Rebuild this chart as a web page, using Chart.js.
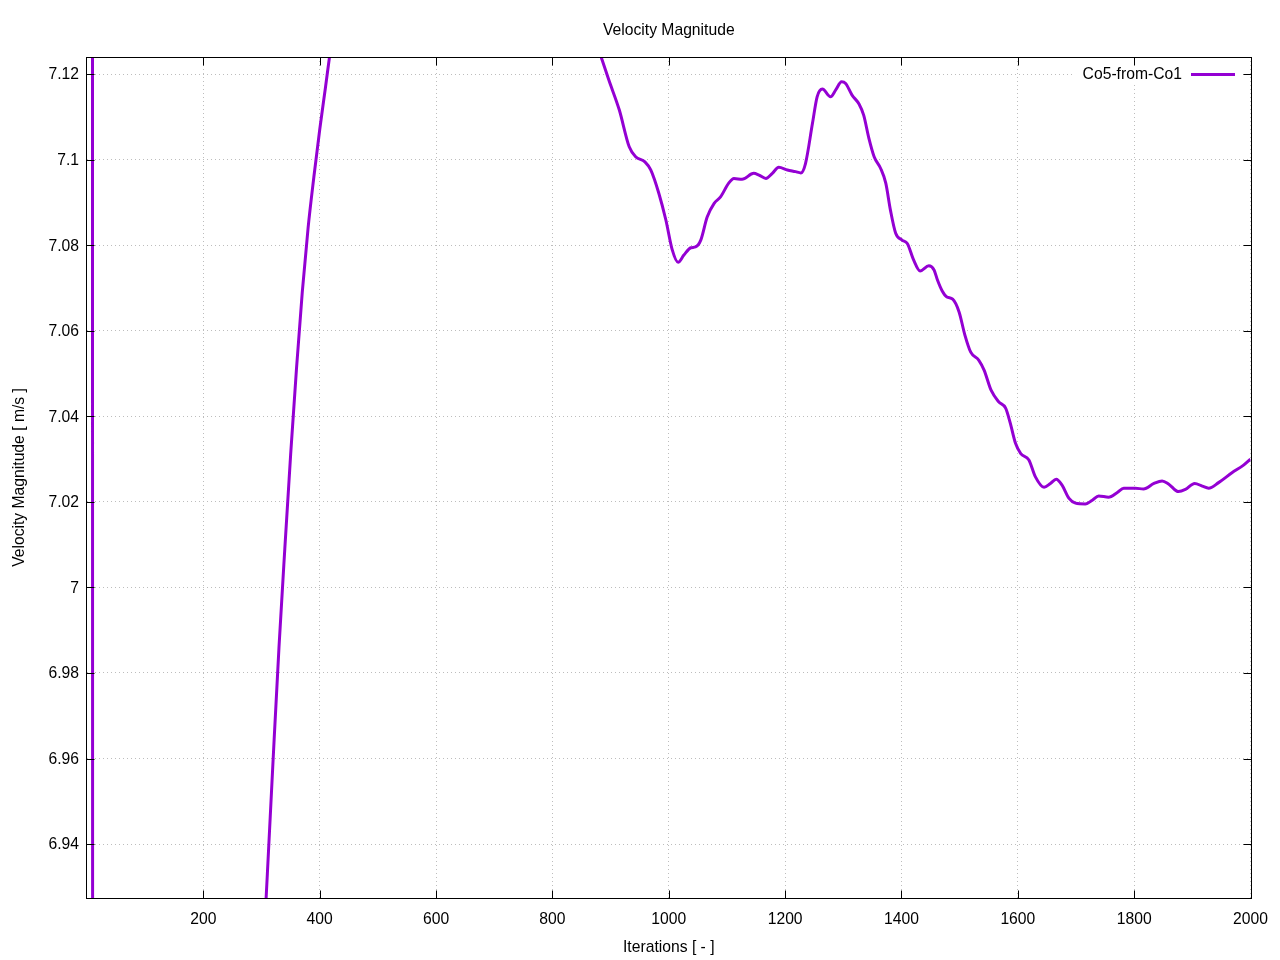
<!DOCTYPE html>
<html><head><meta charset="utf-8">
<script src="https://cdn.jsdelivr.net/npm/chart.js@4/dist/chart.umd.min.js"></script>
<style>html,body{margin:0;padding:0;background:#fff}#wrap{width:1280px;height:960px}</style>
</head><body><div id="wrap"><canvas id="c" width="1280" height="960"></canvas></div>
<script>
const chartTitle = 'Velocity Magnitude';
const xTitle = 'Iterations [ - ]';
const yTitle = 'Velocity Magnitude [ m/s ]';
const seriesLabel = 'Co5-from-Co1';
const xTickValues = [200, 400, 600, 800, 1000, 1200, 1400, 1600, 1800, 2000];
const yTickValues = [6.94, 6.96, 6.98, 7.00, 7.02, 7.04, 7.06, 7.08, 7.10, 7.12];
const iterations = [1, 9, 10, 60, 150, 250, 300,
  310, 320, 330, 340, 350, 360, 370, 380, 390, 400, 410, 420,
  450, 550, 650, 750, 850,
  884, 897, 915, 932, 943, 959, 969, 983, 995, 1006,
  1016, 1026, 1038, 1046, 1055, 1066, 1078, 1089, 1103, 1112,
  1126, 1146, 1155, 1167, 1178, 1189, 1204, 1218, 1227, 1235,
  1247, 1255, 1264, 1278, 1287, 1297, 1304, 1315, 1327, 1335,
  1344, 1353, 1364, 1373, 1381, 1390, 1401, 1410, 1421, 1432,
  1447, 1456, 1462, 1470, 1478, 1488, 1499, 1509, 1519, 1533,
  1542, 1554, 1567, 1579, 1587, 1596, 1605, 1619, 1630, 1645,
  1656, 1666, 1676, 1688, 1699, 1716, 1728, 1739, 1756, 1771,
  1782, 1802, 1816, 1834, 1848, 1859, 1876, 1888, 1904, 1917,
  1928, 1945, 1968, 1988, 2000];
const velocity = [7.6, 7.5, 6.6, 6.2, 6.3, 6.7, 6.905,
  6.933, 6.960, 6.986, 7.009, 7.031, 7.051, 7.069, 7.084, 7.096, 7.107, 7.117, 7.127,
  7.15, 7.185, 7.19, 7.17, 7.138,
  7.1239, 7.1186, 7.1116, 7.1030, 7.1007, 7.0995, 7.0976, 7.0921, 7.0859, 7.0789,
  7.0760, 7.0777, 7.0794, 7.0796, 7.0812, 7.0866, 7.0898, 7.0913, 7.0945, 7.0956,
  7.0954, 7.0968, 7.0964, 7.0956, 7.0968, 7.0982, 7.0976, 7.0972, 7.0969, 7.0991,
  7.1085, 7.1147, 7.1165, 7.1147, 7.1163, 7.1182, 7.1178, 7.1151, 7.1130, 7.1104,
  7.1050, 7.1007, 7.0980, 7.0945, 7.0882, 7.0828, 7.0812, 7.0804, 7.0765, 7.0740,
  7.0752, 7.0742, 7.0718, 7.0693, 7.0679, 7.0674, 7.0644, 7.0590, 7.0550, 7.0531,
  7.0508, 7.0461, 7.0434, 7.0419, 7.0384, 7.0337, 7.0313, 7.0298, 7.0259, 7.0234,
  7.0243, 7.0253, 7.0239, 7.0208, 7.0197, 7.0195, 7.0204, 7.0214, 7.0211, 7.0222,
  7.0232, 7.0232, 7.0230, 7.0243, 7.0249, 7.0242, 7.0224, 7.0229, 7.0243, 7.0237,
  7.0232, 7.0245, 7.0268, 7.0286, 7.0300];

const FONT = '"Liberation Sans", Arial, sans-serif';
const FS = 15.7;
const LINE_COLOR = '#9400d3';

const framePlugin = {
  id: 'frame',
  afterDatasetsDraw(chart) {
    const {ctx, chartArea: a, scales: {x, y}} = chart;
    ctx.save();
    // title centred over the plot area
    ctx.font = FS + 'px ' + FONT;
    ctx.fillStyle = '#000';
    ctx.textAlign = 'center';
    ctx.textBaseline = 'middle';
    ctx.fillText(chartTitle, (a.left + a.right) / 2, a.top - 26);
    // legend (opaque box like gnuplot key)
    const ly = Math.round(y.getPixelForValue(yTickValues[yTickValues.length - 1]));
    ctx.fillStyle = '#fff';
    ctx.fillRect(1073, ly - 9, 170, 19);
    ctx.fillStyle = '#000';
    ctx.textAlign = 'right';
    ctx.fillText(chart.data.datasets[0].label, 1182, ly + 1);
    ctx.strokeStyle = LINE_COLOR;
    ctx.lineWidth = 3;
    ctx.beginPath();
    ctx.moveTo(1191, ly + 0.5);
    ctx.lineTo(1235, ly + 0.5);
    ctx.stroke();
    // border
    ctx.strokeStyle = '#000';
    ctx.lineWidth = 1;
    const L = Math.round(a.left) - 0.5, R = Math.round(a.right) + 0.5;
    const T = Math.round(a.top) + 0.5, B = Math.round(a.bottom) + 0.5;
    ctx.strokeRect(L, T, R - L, B - T);
    // ticks (inward, mirrored)
    const TL = 8;
    ctx.beginPath();
    xTickValues.forEach(v => {
      const px = Math.round(x.getPixelForValue(v)) + 0.5;
      ctx.moveTo(px, B); ctx.lineTo(px, B - TL);
      ctx.moveTo(px, T); ctx.lineTo(px, T + TL);
    });
    yTickValues.forEach(v => {
      const py = Math.round(y.getPixelForValue(v)) + 0.5;
      ctx.moveTo(L, py); ctx.lineTo(L + TL, py);
      ctx.moveTo(R, py); ctx.lineTo(R - TL, py);
    });
    ctx.stroke();
    ctx.restore();
  }
};

new Chart(document.getElementById('c'), {
  type: 'line',
  data: {
    datasets: [{
      label: seriesLabel,
      data: iterations.map((it, i) => ({x: it, y: velocity[i]})),
      borderColor: LINE_COLOR,
      borderWidth: 3,
      pointRadius: 0,
      fill: false,
      cubicInterpolationMode: 'monotone',
      clip: 0
    }]
  },
  options: {
    responsive: false,
    animation: false,
    devicePixelRatio: 1,
    layout: {padding: {left: 0, right: 27, top: 57, bottom: 0}},
    plugins: {
      legend: {display: false},
      tooltip: {enabled: false},
      title: {display: false}
    },
    scales: {
      x: {
        type: 'linear',
        min: 0,
        max: 2000,
        afterFit: s => { s.height = 62; },
        afterBuildTicks: s => { s.ticks = xTickValues.map(v => ({value: v})); },
        grid: {color: '#bdbdbd', lineWidth: 1, drawTicks: false},
        border: {display: false, dash: [1, 3]},
        ticks: {
          color: '#000', padding: 12, maxRotation: 0, autoSkip: false,
          font: {family: FONT, size: FS},
          callback: v => String(v)
        },
        title: {
          display: true, text: xTitle, color: '#000',
          font: {family: FONT, size: FS, lineHeight: 1.2},
          padding: {top: 0, bottom: 2.6}
        }
      },
      y: {
        type: 'linear',
        min: 6.9274,
        max: 7.124,
        afterFit: s => { s.width = 87; },
        afterBuildTicks: s => { s.ticks = yTickValues.map(v => ({value: v})); },
        grid: {color: '#bdbdbd', lineWidth: 1, drawTicks: false},
        border: {display: false, dash: [1, 3]},
        ticks: {
          color: '#000', padding: 8, autoSkip: false, labelOffset: 1,
          font: {family: FONT, size: FS},
          callback: v => String(parseFloat(Number(v).toFixed(2)))
        },
        title: {
          display: true, text: yTitle, color: '#000',
          font: {family: FONT, size: FS, lineHeight: 1.2},
          padding: {top: 10.6, bottom: 0}
        }
      }
    }
  },
  plugins: [framePlugin]
});
</script>
</body></html>
